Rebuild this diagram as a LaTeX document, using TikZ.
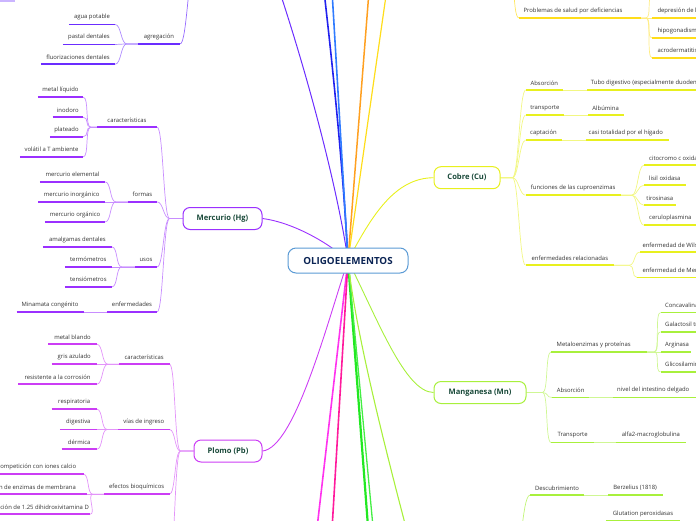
\documentclass[tikz,border=0pt]{standalone}
\usepackage{fontspec}
\setmainfont{Open Sans}
\usetikzlibrary{calc}
\pgfdeclarelayer{bg}
\pgfsetlayers{bg,main}
\definecolor{flc}{HTML}{6B2DFF}
\definecolor{hgc}{HTML}{9B30FF}
\definecolor{pbc}{HTML}{CC3DF5}
\definecolor{cuc}{HTML}{E8F01E}
\definecolor{znc}{HTML}{FFDD1A}
\definecolor{mnc}{HTML}{A8F03C}
\definecolor{dblue}{HTML}{2222EE}
\definecolor{lblue}{HTML}{2F7BFF}
\definecolor{orc}{HTML}{FFA020}
\definecolor{magc}{HTML}{FF33EE}
\definecolor{pinkc}{HTML}{FF1A9C}
\definecolor{grn}{HTML}{22E822}
\definecolor{grnb}{HTML}{44EE44}
\definecolor{rootc}{HTML}{5B9BD5}
\definecolor{roottxt}{HTML}{0B2454}
\definecolor{ntxt}{HTML}{1A4A3A}
\definecolor{txt}{HTML}{333333}
\tikzset{
 tp/.style={inner sep=0pt, minimum height=14pt, text=txt, font=\fontsize{5.9}{6.8}\selectfont},
 ul/.style={line width=1.8pt},
 cn/.style={line width=0.7pt},
 box/.style={draw, fill=white, rounded corners=7pt, line width=1pt, inner sep=0pt, minimum height=22pt, text=ntxt, font=\fontsize{7.6}{8.5}\selectfont\bfseries},
 rootbox/.style={draw=rootc, fill=white, rounded corners=8pt, line width=1pt, inner sep=0pt, minimum width=120pt, minimum height=25pt, text=roottxt, font=\fontsize{9.8}{10.5}\selectfont\bfseries},
}
% centered topic: name x1 x2 y color text
\newcommand\tpc[6]{\node[tp,minimum width={(#3-#2)*1pt}] (#1) at ({(#2+#3)/2},{#4-7}) {#6};
 \draw[ul,#5] (#1.south west) -- (#1.south east);}
% aligned topic: name x1 x2 y color anchor tx text
\newcommand\tpa[8]{\node[tp,minimum width={(#3-#2)*1pt}] (#1) at ({(#2+#3)/2},{#4-7}) {};
 \node[tp,anchor=#6] (#1t) at (#7,{#4-7}) {#8};
 \draw[ul,#5] (#1.south west) -- (#1.south east);}
% child on the left of parent: color child parentanchor gap
\newcommand\conL[4]{\draw[cn,#1!55] (#2.south east) .. controls +(6,0) and +(-6,0) .. ([xshift=-#4pt]#3) -- (#3);}
% child on the right of parent: color parentanchor child gap
\newcommand\conR[4]{\draw[cn,#1!55] (#2) -- ([xshift=#4pt]#2) .. controls +(6,0) and +(-6,0) .. (#3.south west);}
\begin{document}
\begin{tikzpicture}[x=1pt,y=-1pt]
\useasboundingbox (0,0) rectangle (696,520);
% ---------- main nodes
\node[rootbox] (root) at (348,260.5) {OLIGOELEMENTOS};
\node[box,draw=hgc,minimum width=79pt] (hg) at (222.5,218.5) {Mercurio (Hg)};
\node[box,draw=pbc,minimum width=68pt] (pb) at (228,451) {Plomo (Pb)};
\node[box,draw=cuc,minimum width=66pt] (cu) at (467,177.7) {Cobre (Cu)};
\node[box,draw=mnc,minimum width=92pt] (mn) at (480,392.5) {Manganesa (Mn)};
% off-canvas ends
\coordinate (cfl) at (262,-60);
\coordinate (cdb) at (318,-60);
\coordinate (clb) at (329,-60);
\coordinate (cor) at (373,-60);
\coordinate (czn) at (394,-60);
\coordinate (cmg) at (311,580);
\coordinate (cpk) at (329,580);
\coordinate (cg1) at (372,580);
\coordinate (cg2) at (378,580);
\coordinate (cse) at (420,580);
\coordinate (flw) at (196,-45);
\coordinate (znw) at (508,-50);
\coordinate (zup) at (652.3,-4);
\coordinate (pb4) at (169.3,560);
\coordinate (sep) at (514,575);
\node[fill=flc!35, inner sep=0pt, minimum width=15pt, minimum height=4pt] (tl) at (7.5,0) {};
% ---------- Fluor (top-left)
\tpc{agr}{138}{180}{43.7}{flc}{agregación}
\tpc{agua}{69}{115}{24.3}{flc}{agua potable}
\tpc{past}{63}{115}{44.3}{flc}{pastal dentales}
\tpc{fluo}{41}{115}{64}{flc}{fluorizaciones dentales}
% ---------- Mercurio
\tpc{hcar}{97}{157}{127}{hgc}{características}
\tpc{hml}{38}{83}{97}{hgc}{metal líquido}
\tpc{hin}{52.7}{83}{117}{hgc}{inodoro}
\tpc{hpl}{50}{83}{136.5}{hgc}{plateado}
\tpc{hvo}{20}{83}{156.7}{hgc}{volátil a T ambiente}
\tpc{hfor}{128}{157}{201.7}{hgc}{formas}
\tpc{hme}{40}{105}{181.7}{hgc}{mercurio elemental}
\tpc{hmi}{38.3}{105}{201.7}{hgc}{mercurio inorgánico}
\tpc{hmo}{45}{105}{221.7}{hgc}{mercurio orgánico}
\tpc{husos}{135}{157}{266.7}{hgc}{usos}
\tpc{ham}{43}{111.7}{246.7}{hgc}{amalgamas dentales}
\tpc{hte}{65}{111.7}{266.7}{hgc}{termómetros}
\tpc{hts}{65}{111.7}{286.7}{hgc}{tensiómetros}
\tpc{henf}{107}{157}{311.7}{hgc}{enfermedades}
\tpc{hmin}{16.7}{83.3}{311.7}{hgc}{Minamata congénito}
% ---------- Plomo
\tpc{pcar}{119}{169.3}{364}{pbc}{características}
\tpc{pmb}{48.3}{96.7}{344}{pbc}{metal blando}
\tpc{pga}{51.7}{96.7}{364}{pbc}{gris azulado}
\tpc{prc}{18.3}{96.7}{384}{pbc}{resistente a la corrosión}
\tpc{pvi}{118.3}{169.3}{429.3}{pbc}{vías de ingreso}
\tpc{pre}{51.7}{96.7}{409}{pbc}{respiratoria}
\tpc{pdi}{60}{96.7}{429.3}{pbc}{digestiva}
\tpc{pde}{61.7}{96.7}{449}{pbc}{dérmica}
\tpc{pef}{104}{169.3}{494}{pbc}{efectos bioquímicos}
\tpa{pc1}{-60}{83.3}{474}{pbc}{east}{76.5}{competición con iones calcio}
\tpa{pc2}{-60}{86.7}{494}{pbc}{east}{76}{inhibición de enzimas de membrana}
\tpa{pc3}{-60}{90}{514}{pbc}{east}{89}{disminución de 1.25 dihidroxivitamina D}
% ---------- Cobre
\tpc{cabs}{525.7}{563}{90}{cuc}{Absorción}
\tpa{ctubo}{587.3}{790}{90}{cuc}{west}{590.7}{Tubo digestivo (especialmente duodeno)}
\tpc{ctra}{525.7}{564}{115}{cuc}{transporte}
\tpc{calb}{588}{623.3}{115}{cuc}{Albúmina}
\tpc{ccap}{525.7}{561.3}{140}{cuc}{captación}
\tpa{ccas}{585.7}{669}{140}{cuc}{west}{588.5}{casi totalidad por el hígado}
\tpc{cfun}{525.7}{620.7}{195}{cuc}{funciones de las cuproenzimas}
\tpa{ccit}{644}{790}{165}{cuc}{west}{649}{citocromo c oxidasa}
\tpc{clis}{644}{685.7}{185}{cuc}{lisil oxidasa}
\tpc{ctir}{644}{675.7}{205}{cuc}{tirosinasa}
\tpa{ccer}{644}{790}{225}{cuc}{west}{649}{ceruloplasmina}
\tpc{cenf}{525.7}{614}{265}{cuc}{enfermedades relacionadas}
\tpa{cwil}{640}{790}{252}{cuc}{west}{642.3}{enfermedad de Wilson}
\tpa{cmen}{637.3}{790}{277.3}{cuc}{west}{642.3}{enfermedad de Menkes}
% ---------- Zinc part (top right)
\tpa{zprob}{519}{640.7}{17.7}{znc}{west}{523.3}{Problemas de salud por deficiencias}
\tpa{zdep}{652.3}{790}{17.7}{znc}{west}{657.3}{depresión de la inmunidad}
\tpa{zhip}{652.3}{790}{37.7}{znc}{west}{657.3}{hipogonadismo}
\tpa{zacr}{652.3}{790}{57.7}{znc}{west}{657.3}{acrodermatitis enteropática}
% ---------- Manganesa
\tpa{mmet}{551.3}{647}{351.7}{mnc}{west}{556.5}{Metaloenzimas y proteínas}
\tpa{mcon}{660.7}{790}{312.3}{mnc}{west}{665}{Concavalina A}
\tpa{mgal}{660.7}{790}{331.7}{mnc}{west}{665}{Galactosil transferasa}
\tpa{marg}{660.7}{690.7}{351.7}{mnc}{west}{665}{Arginasa}
\tpa{mgli}{660.7}{790}{371.7}{mnc}{west}{665}{Glicosilaminoglicanos}
\tpc{mabs}{552.3}{589}{397.3}{mnc}{Absorción}
\tpa{mniv}{613}{790}{397.3}{mnc}{west}{617}{nivel del intestino delgado}
\tpc{mtra}{551.3}{594}{442.3}{mnc}{Transporte}
\tpc{malf}{615.7}{686}{442.3}{mnc}{alfa2-macroglobulina}
% ---------- bottom right
\tpc{sdes}{530}{584}{495}{mnc}{Descubrimiento}
\tpc{sber}{608}{662.3}{495}{mnc}{Berzelius (1818)}
\tpc{sglu}{606}{680}{520.5}{mnc}{Glutation peroxidasas}
% ---------- connectors
\begin{pgfonlayer}{bg}
\draw[flc, line width=1pt] (root.center) .. controls (338,190) and (305,60) .. (cfl);
\draw[dblue, line width=1.6pt] (root.center) .. controls (342,150) and (330,40) .. (cdb);
\draw[lblue, line width=1.6pt] (root.center) -- (clb);
\draw[orc, line width=1.5pt] (root.center) -- (cor);
\draw[znc, line width=1.2pt] (root.center) -- (czn);
\draw[magc, line width=1.6pt] (root.center) -- (cmg);
\draw[pinkc, line width=1.6pt] (root.center) -- (cpk);
\draw[grn, line width=2.2pt] (root.center) -- (cg1);
\draw[grnb, line width=1.3pt] (root.center) -- (cg2);
\draw[mnc, line width=1.1pt] (root.center) .. controls (355,330) and (385,450) .. (cse);
\draw[hgc, line width=0.9pt] (hg.east) .. controls (290,222) and (325,240) .. (root.center);
\draw[cuc, line width=0.9pt] (root.center) .. controls (372,215) and (395,178) .. (cu.west);
\draw[mnc, line width=0.9pt] (root.center) .. controls (378,320) and (405,392) .. (mn.west);
\draw[pbc, line width=0.9pt] (pb.east) .. controls (295,448) and (328,320) .. (root.center);
% fluor
\conL{flc}{agua}{agr.south west}{11}
\conL{flc}{past}{agr.south west}{11}
\conL{flc}{fluo}{agr.south west}{11}
\draw[cn,flc!70] (agr.south east) .. controls +(7,0) and +(-7,0) .. (flw);
% mercurio
\conL{hgc}{hcar}{hg.west}{13}
\conL{hgc}{hfor}{hg.west}{13}
\conL{hgc}{husos}{hg.west}{13}
\conL{hgc}{henf}{hg.west}{13}
\conL{hgc}{hml}{hcar.south west}{6}
\conL{hgc}{hin}{hcar.south west}{6}
\conL{hgc}{hpl}{hcar.south west}{6}
\conL{hgc}{hvo}{hcar.south west}{6}
\conL{hgc}{hme}{hfor.south west}{12}
\conL{hgc}{hmi}{hfor.south west}{12}
\conL{hgc}{hmo}{hfor.south west}{12}
\conL{hgc}{ham}{husos.south west}{13}
\conL{hgc}{hte}{husos.south west}{13}
\conL{hgc}{hts}{husos.south west}{13}
\draw[cn,hgc!55] (hmin.south east) -- (henf.south west);
% plomo
\conL{pbc}{pcar}{pb.west}{13}
\conL{pbc}{pvi}{pb.west}{13}
\conL{pbc}{pef}{pb.west}{13}
\draw[cn,pbc!55] (pb4) .. controls +(6,0) and +(-6,0) .. ([xshift=-13pt]pb.west) -- (pb.west);
\conL{pbc}{pmb}{pcar.south west}{11}
\conL{pbc}{pga}{pcar.south west}{11}
\conL{pbc}{prc}{pcar.south west}{11}
\conL{pbc}{pre}{pvi.south west}{11}
\conL{pbc}{pdi}{pvi.south west}{11}
\conL{pbc}{pde}{pvi.south west}{11}
\conL{pbc}{pc1}{pef.south west}{11}
\conL{pbc}{pc2}{pef.south west}{11}
\conL{pbc}{pc3}{pef.south west}{11}
% cobre
\conR{cuc}{cu.east}{cabs}{12}
\conR{cuc}{cu.east}{ctra}{12}
\conR{cuc}{cu.east}{ccap}{12}
\conR{cuc}{cu.east}{cfun}{12}
\conR{cuc}{cu.east}{cenf}{12}
\draw[cn,cuc!55] (cabs.south east) -- (ctubo.south west);
\draw[cn,cuc!55] (ctra.south east) -- (calb.south west);
\draw[cn,cuc!55] (ccap.south east) -- (ccas.south west);
\conR{cuc}{cfun.south east}{ccit}{11}
\conR{cuc}{cfun.south east}{clis}{11}
\conR{cuc}{cfun.south east}{ctir}{11}
\conR{cuc}{cfun.south east}{ccer}{11}
\conR{cuc}{cenf.south east}{cwil}{15}
\conR{cuc}{cenf.south east}{cmen}{15}
% zinc
\draw[cn,znc!70] (zprob.south west) .. controls +(-7,0) and +(7,0) .. (znw);
\conR{znc}{zprob.south east}{zdep}{5}
\conR{znc}{zprob.south east}{zhip}{5}
\conR{znc}{zprob.south east}{zacr}{5}
\draw[cn,znc!55] ([xshift=5pt]zprob.south east) .. controls +(6,0) and +(-6,0) .. (zup);
% manganesa
\conR{mnc}{mn.east}{mmet}{16}
\conR{mnc}{mn.east}{mabs}{16}
\conR{mnc}{mn.east}{mtra}{16}
\conR{mnc}{mmet.south east}{mcon}{7}
\conR{mnc}{mmet.south east}{mgal}{7}
\conR{mnc}{mmet.south east}{marg}{7}
\conR{mnc}{mmet.south east}{mgli}{7}
\draw[cn,mnc!55] (mabs.south east) -- (mniv.south west);
\draw[cn,mnc!55] (mtra.south east) -- (malf.south west);
% bottom right
\draw[cn,mnc!70] (sdes.south west) .. controls +(-8,0) and +(6,0) .. (sep);
\draw[cn,mnc!55] (sdes.south east) -- (sber.south west);
\end{pgfonlayer}
\end{tikzpicture}
\end{document}
